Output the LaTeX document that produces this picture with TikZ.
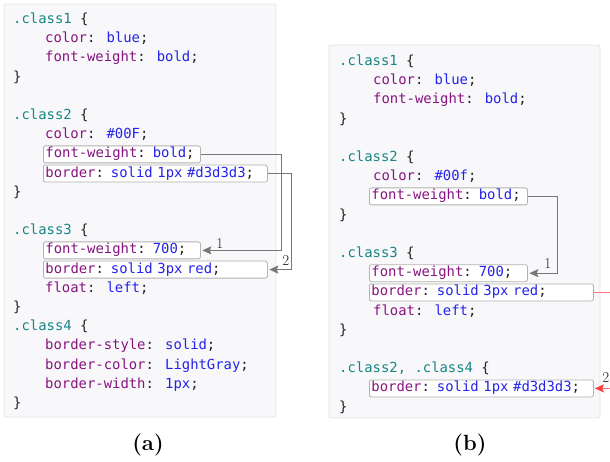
\documentclass[tikz,border=0pt]{standalone}
\usepackage{fontspec}
\usepackage{tikz}
\usetikzlibrary{arrows.meta}
\newfontfamily\codefont{DejaVu Sans Mono}

\definecolor{selteal}{RGB}{24,134,134}
\definecolor{propmag}{RGB}{136,20,128}
\definecolor{valblue}{RGB}{35,35,235}
\definecolor{codeblack}{RGB}{34,34,34}
\definecolor{panelbg}{RGB}{248,248,250}
\definecolor{panelline}{RGB}{228,228,232}
\definecolor{boxgray}{RGB}{178,178,178}
\definecolor{arrowgray}{RGB}{120,120,120}

\newcommand{\csel}[1]{\textcolor{selteal}{#1}}
\newcommand{\cdecl}[2]{\textcolor{propmag}{#1}: \textcolor{valblue}{#2};}

\tikzset{
  code/.style={anchor=west,inner sep=0pt,text height=10pt,text depth=3pt,text=codeblack,
    font=\codefont\fontsize{13.9}{16}\selectfont},
  hlbox/.style={code,draw=boxgray,fill=white,line width=0.8pt,rounded corners=2pt,
    inner xsep=2pt,inner ysep=2pt,text width=#1,align=left},
  panel/.style={fill=panelbg,draw=panelline,line width=0.8pt,rounded corners=2pt},
  conn/.style={arrowgray,line width=1.3pt,-{Stealth[length=9pt,width=8pt,inset=1.5pt]},shorten >=1.5pt},
  redconn/.style={red!55,line width=1.3pt,-{Stealth[length=9pt,width=8pt,inset=1.5pt,red!75]},shorten >=1pt},
  numlabel/.style={inner sep=0pt,text=codeblack,font=\fontsize{15}{17}\selectfont},
  caption/.style={inner sep=0pt,font=\bfseries\fontsize{22}{24}\selectfont}
}

\begin{document}
\begin{tikzpicture}[x=1pt,y=-1pt]
  \useasboundingbox (0,0) rectangle (610,462);

  % (a) original rules
  \draw[panel] (4,4) rectangle (276,417);
  \node[code] (a1) at (13,20) {\csel{.class1} \{};
  \node[code] (a2) at (45,39.2) {\cdecl{color}{blue}};
  \node[code] (a3) at (45,58.4) {\cdecl{font-weight}{bold}};
  \node[code] (a4) at (13,77.6) {\}};
  \node[code] (a6) at (13,116) {\csel{.class2} \{};
  \node[code] (a7) at (45,135.2) {\cdecl{color}{\#00F}};
  \node[hlbox=153pt] (a8) at (43,154.4) {\cdecl{font-weight}{bold}};
  \node[hlbox=220pt] (a9) at (43,173.6) {\cdecl{border}{solid 1px \#d3d3d3}};
  \node[code] (a10) at (13,192.8) {\}};
  \node[code] (a12) at (13,231.2) {\csel{.class3} \{};
  \node[hlbox=153pt] (a13) at (43,250.4) {\cdecl{font-weight}{700}};
  \node[hlbox=220pt] (a14) at (43,269.6) {\cdecl{border}{solid 3px red}};
  \node[code] (a15) at (45,288.8) {\cdecl{float}{left}};
  \node[code] (a16) at (13,308) {\}};
  \node[code] (a17) at (13,327.2) {\csel{.class4} \{};
  \node[code] (a18) at (45,346.4) {\cdecl{border-style}{solid}};
  \node[code] (a19) at (45,365.6) {\cdecl{border-color}{LightGray}};
  \node[code] (a20) at (45,384.8) {\cdecl{border-width}{1px}};
  \node[code] (a21) at (13,404) {\}};

  \draw[conn] (a8.east) -- ++(81,0) |- (a13.east);
  \draw[conn] (a9.east) -- ++(24,0) |- (a14.east);
  \node[numlabel] (na1) at ([xshift=19pt,yshift=7pt]a13.east) {1};
  \node[numlabel] (na2) at ([xshift=18pt,yshift=9pt]a14.east) {2};

  % (b) rewritten rules
  \draw[panel] (329,45) rectangle (600,418);
  \node[code] (b1) at (339,62) {\csel{.class1} \{};
  \node[code] (b2) at (373,81.2) {\cdecl{color}{blue}};
  \node[code] (b3) at (373,100.4) {\cdecl{font-weight}{bold}};
  \node[code] (b4) at (339,119.6) {\}};
  \node[code] (b6) at (339,158) {\csel{.class2} \{};
  \node[code] (b7) at (373,177.2) {\cdecl{color}{\#00f}};
  \node[hlbox=154pt] (b8) at (369,196.4) {\cdecl{font-weight}{bold}};
  \node[code] (b9) at (339,215.6) {\}};
  \node[code] (b11) at (339,254) {\csel{.class3} \{};
  \node[hlbox=154pt] (b12) at (369,273.2) {\cdecl{font-weight}{700}};
  \node[hlbox=220pt] (b13) at (369,292.4) {\cdecl{border}{solid 3px red}};
  \node[code] (b14) at (373,311.6) {\cdecl{float}{left}};
  \node[code] (b15) at (339,330.8) {\}};
  \node[code] (b17) at (339,369.2) {\csel{.class2, .class4} \{};
  \node[hlbox=220pt] (b18) at (369,388.4) {\cdecl{border}{solid 1px \#d3d3d3}};
  \node[code] (b19) at (339,407.6) {\}};

  \draw[conn] (b8.east) -- ++(30,0) |- (b12.east);
  \draw[redconn] (b13.east) -- ++(30,0) |- (b18.east);
  \node[numlabel] (nb1) at ([xshift=20pt,yshift=10pt]b12.east) {1};
  \node[numlabel] (nb2) at ([xshift=12pt,yshift=11pt]b18.east) {2};

  % captions
  \node[caption] (capa) at (148,445) {(a)};
  \node[caption] (capb) at (470,445) {(b)};
\end{tikzpicture}
\end{document}
